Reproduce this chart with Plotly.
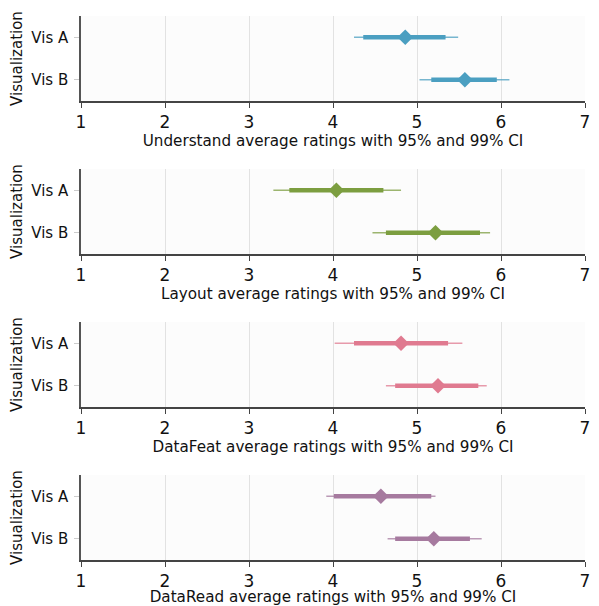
import plotly.graph_objects as go
from plotly.subplots import make_subplots

categories = ["Vis A", "Vis B"]
measures = ["Understand", "Layout", "DataFeat", "DataRead"]
colors = ["#4b9fc1", "#7c9e40", "#e07a90", "#a67a9f"]

means = {
    "Understand": [4.86, 5.57],
    "Layout": [4.04, 5.22],
    "DataFeat": [4.81, 5.25],
    "DataRead": [4.57, 5.20],
}
ci95_lo = {
    "Understand": [4.36, 5.17],
    "Layout": [3.48, 4.63],
    "DataFeat": [4.25, 4.74],
    "DataRead": [4.01, 4.74],
}
ci95_hi = {
    "Understand": [5.34, 5.95],
    "Layout": [4.60, 5.75],
    "DataFeat": [5.37, 5.73],
    "DataRead": [5.17, 5.63],
}
ci99_lo = {
    "Understand": [4.25, 5.03],
    "Layout": [3.29, 4.47],
    "DataFeat": [4.02, 4.63],
    "DataRead": [3.92, 4.65],
}
ci99_hi = {
    "Understand": [5.49, 6.10],
    "Layout": [4.81, 5.87],
    "DataFeat": [5.54, 5.83],
    "DataRead": [5.22, 5.77],
}
x_ticks = [1, 2, 3, 4, 5, 6, 7]

fig = make_subplots(rows=4, cols=1, vertical_spacing=68 / 544)
FONT = "DejaVu Sans"

for r, (m, c) in enumerate(zip(measures, colors), start=1):
    for i, cat in enumerate(categories):
        fig.add_trace(go.Scatter(x=[ci99_lo[m][i], ci99_hi[m][i]], y=[cat, cat], mode="lines",
                                 line=dict(color=c, width=1.6), opacity=0.75,
                                 showlegend=False, hoverinfo="skip"), row=r, col=1)
        fig.add_trace(go.Scatter(x=[ci95_lo[m][i], ci95_hi[m][i]], y=[cat, cat], mode="lines",
                                 line=dict(color=c, width=4.5),
                                 showlegend=False, hoverinfo="skip"), row=r, col=1)
    fig.add_trace(go.Scatter(x=means[m], y=categories, mode="markers",
                             marker=dict(symbol="diamond", size=12, color=c, line=dict(width=0)),
                             showlegend=False), row=r, col=1)
    fig.update_xaxes(row=r, col=1, range=[1, 7], tickvals=x_ticks, showgrid=True,
                     gridcolor="#e2e2e2", gridwidth=1.3, showline=True, linecolor="#444444",
                     linewidth=1.5, ticks="outside", ticklen=5, tickcolor="#444444",
                     zeroline=False, automargin=False, ticklabeloverflow="allow",
                     tickfont=dict(family=FONT, size=17, color="#111111"),
                     title=dict(text=f"{m} average ratings with 95% and 99% CI",
                                font=dict(family=FONT, size=15.2, color="#111111"), standoff=3))
    fig.update_yaxes(row=r, col=1, type="category", categoryarray=categories,
                     range=[1.5, -0.5], showgrid=False, showline=True, linecolor="#555555",
                     linewidth=1.5, ticks="outside", ticklen=5, tickcolor="#cccccc",
                     zeroline=False, automargin=False, ticklabelstandoff=3,
                     tickfont=dict(family=FONT, size=15, color="#111111"),
                     title=dict(text="Visualization", font=dict(family=FONT, size=15, color="#111111"),
                                standoff=6))

# page body has an 8px margin, so the figure is sized to fit inside the 599x606 window
fig.update_layout(width=583, height=598, margin=dict(l=73, r=6, t=8, b=46),
                  paper_bgcolor="white", plot_bgcolor="#fcfcfc",
                  font=dict(family=FONT, color="#111111"))

fig.write_html("out.html")
